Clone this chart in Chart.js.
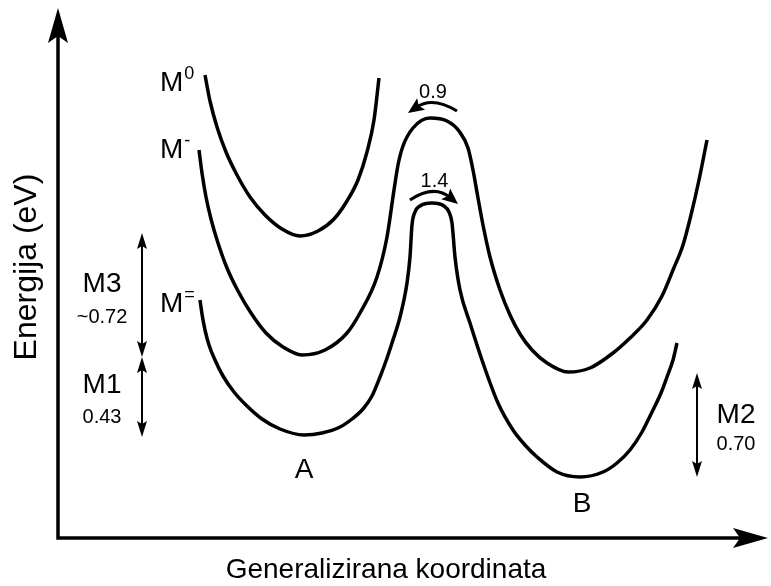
<!DOCTYPE html>
<html><head><meta charset="utf-8">
<script src="https://cdn.jsdelivr.net/npm/chart.js@4/dist/chart.umd.min.js"></script>
<style>html,body{margin:0;padding:0;background:#fff}#wrap{width:771px;height:586px;position:relative}</style>
</head><body><div id="wrap"><canvas id="c"></canvas></div>
<script>
// Generalized coordinate (x) and energy (arbitrary units, 0 at the axes origin)
const coordM0 = [147,152,159,168,179,192,207,224,242,260,276,289,300,309,316,321];
const energyM0 = [463,437,411,386,363,341,323,309,302,307,319,337,358,386,418,460];

const coordM1 = [141,144,148,153,160,169,180,193,208,225,244,267,289,302,319,329,336,340,345,355,372,389,401,410,415,420,425,432,442,452,462,474,489,510,532,555,572,589,604,615,625,633,641,649];
const energyM1 = [388,365,341,319,295,270,247,225,205,191,183,188,205,225,261,301,348,373,392,410,420,417,407,390,368,340,313,281,248,223,204,188,175,166,170,185,200,218,242,268,293,323,358,398];

const coordM2 = [142,144,147,151,157,165,176,189,204,222,246,264,282,294,305,314,322,328,334,342,349,352,354,357,362,374,386,391,394,397,402,412,425,440,455,467,479,499,522,545,559,572,584,595,603,609,615,619];
const energyM2 = [238,224,208,193,178,162,146,132,119,109,103,105,111,119,129,142,161,177,195,221,255,281,313,326,332,335,332,326,315,281,248,215,175,135,108,93,81,66,61,66,75,88,106,128,145,161,178,195];

// Energy gaps (vertical double arrows)
const gapNames = ['M3', 'M1', 'M2'];
const gapValues = ['~0.72', '0.43', '0.70'];
const gapX = [84, 84, 639];
const gapFrom = [181, 101, 61];
const gapTo = [305, 181, 165];

// Barrier hops (curved arrows)
const hopLabels = ['0.9', '1.4'];
const hopStartX = [399, 352];
const hopEndX = [350, 400];
const hopStartE = [427, 338];
const hopEndE = [425, 334];
const hopApexE = [434, 345];

const curveNames = ['0', '-', '='];
const minimaLabels = ['A', 'B'];

const axisTitleX = 'Generalizirana koordinata';
const axisTitleY = 'Energija (eV)';

const FONT = '"Liberation Sans", Arial, Helvetica, sans-serif';

function pts(xs, ys) { return xs.map((x, i) => ({ x: x, y: ys[i] })); }

function head(ctx, tx, ty, ang, len, hw, notch) {
  ctx.save();
  ctx.translate(tx, ty);
  ctx.rotate(ang);
  ctx.beginPath();
  ctx.moveTo(0, 0);
  ctx.lineTo(-len, -hw);
  ctx.lineTo(-len + notch, 0);
  ctx.lineTo(-len, hw);
  ctx.closePath();
  ctx.fill();
  ctx.restore();
}

const schema = {
  id: 'schema',
  afterDatasetsDraw(chart) {
    const ctx = chart.ctx, sx = chart.scales.x, sy = chart.scales.y;
    const P = (x, y) => [sx.getPixelForValue(x), sy.getPixelForValue(y)];
    ctx.save();
    ctx.fillStyle = '#000';
    ctx.strokeStyle = '#000';

    // axes with arrowheads
    const [ox, oy] = P(0, 0);
    const yTop = sy.getPixelForValue(530);
    const xEnd = sx.getPixelForValue(710);
    ctx.lineWidth = 3.5;
    ctx.lineCap = 'butt';
    ctx.lineJoin = 'miter';
    ctx.beginPath();
    ctx.moveTo(ox, yTop + 25);
    ctx.lineTo(ox, oy);
    ctx.lineTo(xEnd - 25, oy);
    ctx.stroke();
    head(ctx, ox, yTop, -Math.PI / 2, 35, 10, 7);
    head(ctx, xEnd, oy, 0, 35, 10, 7);

    // axis titles
    ctx.textAlign = 'center';
    ctx.textBaseline = 'alphabetic';
    ctx.font = '28px ' + FONT;
    ctx.fillText(axisTitleX, 386, 578);
    ctx.save();
    ctx.translate(36, 267);
    ctx.rotate(-Math.PI / 2);
    ctx.font = '32px ' + FONT;
    ctx.fillText(axisTitleY, 0, 0);
    ctx.restore();

    // curve labels M^0, M^-, M^=
    const labelE = [447, 380, 226];
    curveNames.forEach((s, i) => {
      const [px, py] = P(102, labelE[i]);
      ctx.textAlign = 'left';
      ctx.font = '28px ' + FONT;
      ctx.fillText('M', px, py);
      const w = ctx.measureText('M').width;
      ctx.font = '18px ' + FONT;
      ctx.fillText(s, px + w + 1, py - 12);
    });

    // vertical energy-gap arrows
    ctx.lineWidth = 2;
    gapNames.forEach((n, i) => {
      const [gx, y1] = P(gapX[i], gapFrom[i]);
      const [, y2] = P(gapX[i], gapTo[i]);
      ctx.beginPath();
      ctx.moveTo(gx, y1 - 10);
      ctx.lineTo(gx, y2 + 10);
      ctx.stroke();
      head(ctx, gx, y1, Math.PI / 2, 16, 5, 3);
      head(ctx, gx, y2, -Math.PI / 2, 16, 5, 3);
    });
    const gapTextPos = [[44, 246, 215], [44, 145, 115], [678, 115, 88]];
    gapNames.forEach((n, i) => {
      const [tx, ty1] = P(gapTextPos[i][0], gapTextPos[i][1]);
      const [, ty2] = P(gapTextPos[i][0], gapTextPos[i][2]);
      ctx.textAlign = 'center';
      ctx.font = '28px ' + FONT;
      ctx.fillText(n, tx, ty1);
      ctx.font = '20px ' + FONT;
      ctx.fillText(gapValues[i], tx, ty2);
    });

    // curved barrier arrows
    ctx.lineWidth = 3;
    const hopTextE = [440, 351];
    hopLabels.forEach((l, i) => {
      const [x0, y0] = P(hopStartX[i], hopStartE[i]);
      const [x1, y1] = P(hopEndX[i], hopEndE[i]);
      const [, ya] = P(0, hopApexE[i]);
      const cx = (x0 + x1) / 2;
      const cy = 2 * ya - (y0 + y1) / 2;
      const ang = Math.atan2(y1 - cy, x1 - cx);
      const bx = x1 - Math.cos(ang) * 10, by = y1 - Math.sin(ang) * 10;
      ctx.beginPath();
      ctx.moveTo(x0, y0);
      ctx.quadraticCurveTo(cx, cy, bx, by);
      ctx.stroke();
      head(ctx, x1, y1, ang, 16, 7, 3);
      const [tx, ty] = P((hopStartX[i] + hopEndX[i]) / 2 + 0.5, hopTextE[i]);
      ctx.textAlign = 'center';
      ctx.font = '20px ' + FONT;
      ctx.fillText(l, tx, ty);
    });

    // minima labels
    const minPos = [[246, 60], [524, 26]];
    ctx.font = '28px ' + FONT;
    ctx.textAlign = 'center';
    minimaLabels.forEach((l, i) => {
      const [tx, ty] = P(minPos[i][0], minPos[i][1]);
      ctx.fillText(l, tx, ty);
    });
    ctx.restore();
  }
};

const lineStyle = {
  borderColor: '#000',
  borderWidth: 3.5,
  pointRadius: 0,
  fill: false,
  cubicInterpolationMode: 'monotone',
  borderCapStyle: 'butt',
  borderJoinStyle: 'round'
};

new Chart(document.getElementById('c'), {
  type: 'line',
  data: {
    datasets: [
      Object.assign({ label: 'M0', data: pts(coordM0, energyM0) }, lineStyle),
      Object.assign({ label: 'M-', data: pts(coordM1, energyM1) }, lineStyle),
      Object.assign({ label: 'M=', data: pts(coordM2, energyM2) }, lineStyle)
    ]
  },
  options: {
    responsive: true,
    maintainAspectRatio: false,
    animation: false,
    events: [],
    layout: { padding: 0 },
    plugins: { legend: { display: false }, tooltip: { enabled: false } },
    scales: {
      x: { type: 'linear', min: -58, max: 713, display: false },
      y: { type: 'linear', min: -48, max: 538, display: false }
    }
  },
  plugins: [schema]
});
</script>
</body></html>
